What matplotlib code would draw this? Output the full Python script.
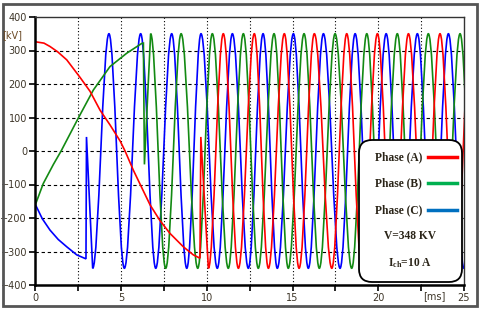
import numpy as np
import matplotlib.pyplot as plt
from matplotlib.patches import FancyBboxPatch, Rectangle, PathPatch
from matplotlib.path import Path
from matplotlib.transforms import IdentityTransform

plt.rcParams['mathtext.fontset'] = 'custom'
plt.rcParams['mathtext.rm'] = 'Liberation Serif:bold'

# Phase (A) - rot: langsame Kurve + Sprung, dann Extremwerte der Schwingung
tA_pre = [0, 0.5, 0.85, 1.3, 1.83, 2.6, 3.19, 3.77, 4.35, 4.94, 5.23, 5.71, 6.69,
          7.27, 7.85, 8.63, 9.21, 9.6, 9.65]
vA_pre = [326, 322, 312, 296, 272, 220, 178, 122, 78, 30, 0, -57, -161,
          -208, -246, -286, -310, -320, 42]
tA_ext = [10.09, 10.96, 11.84, 12.77, 13.59, 14.52, 15.38, 16.27, 17.29, 18.16,
          19.05, 19.95, 20.85, 21.76, 22.7, 23.6, 24.5, 25.4]
vA_ext = [-350, 350, -350, 350, -350, 350, -350, 350, -350, 350,
          -350, 350, -350, 350, -350, 350, -350, 350]

# Phase (B) - gruen
tB_pre = [0, 0.46, 1.05, 1.5, 2.54, 3.38, 4.35, 5.33, 6.2, 6.3, 6.36]
vB_pre = [-160, -97, -40, 0, 102, 182, 252, 292, 321, 322, -40]
tB_ext = [6.72, 7.6, 8.5, 9.47, 10.32, 11.25, 12.13, 13.0, 13.92, 14.75, 15.67,
          16.56, 17.48, 18.45, 19.33, 20.2, 21.11, 22.0, 22.92, 23.85, 24.77, 25.65]
vB_ext = [350, -350, 350, -350, 350, -350, 350, -350, 350, -350, 350,
          -350, 350, -350, 350, -350, 350, -350, 350, -350, 350, -350]

# Phase (C) - blau
tC_pre = [0, 0.4, 0.85, 1.33, 1.83, 2.41, 2.95, 2.98]
vC_pre = [-160, -202, -236, -264, -286, -310, -322, 42]
tC_ext = [3.34, 4.29, 5.19, 6.14, 7.02, 7.95, 8.83, 9.66, 10.61, 11.49, 12.42,
          13.28, 14.11, 15.05, 15.92, 16.8, 17.77, 18.65, 19.55, 20.46, 21.35,
          22.28, 23.2, 24.09, 25.0, 25.9]
vC_ext = [-350, 350, -350, 350, -350, 350, -350, 350, -350, 350, -350,
          350, -350, 350, -350, 350, -350, 350, -350, 350, -350,
          350, -350, 350, -350, 350]

xticks = np.arange(0, 25.1, 2.5)
xlabels = ['0', '', '5', '', '10', '', '15', '', '20', '', '25']
yticks = np.arange(-400, 401, 100)


def phase_path(t_pre, v_pre, t_ext, v_ext):
    # Geradenstuecke fuer den Anfang, Bezier-Boegen zwischen den Extremwerten
    verts = list(zip(t_pre, v_pre))
    codes = [Path.MOVETO] + [Path.LINETO] * (len(t_pre) - 1)
    verts.append((t_ext[0], v_ext[0]))
    codes.append(Path.LINETO)
    k = 1 - 2 / np.pi
    for i in range(1, len(t_ext)):
        t0, v0, t1, v1 = t_ext[i-1], v_ext[i-1], t_ext[i], v_ext[i]
        dt = t1 - t0
        verts += [(t0 + k*dt, v0), (t1 - k*dt, v1), (t1, v1)]
        codes += [Path.CURVE4] * 3
    return Path(verts, codes)


W, H = 480, 309
fig = plt.figure(figsize=(4.8, 3.09), dpi=100)
ax = fig.add_axes([35.4/W, 1-285/H, (464-35.4)/W, (285-17)/H])

# Gitter
for x in xticks[1:-1]:
    ax.axvline(x, color='k', lw=0.8, ls=(0, (1, 2)), zorder=1)
for y in yticks[1:-1]:
    ax.axhline(y, color='k', lw=0.8, ls=(0, (3, 2.5)), zorder=1)

ax.add_patch(PathPatch(phase_path(tC_pre, vC_pre, tC_ext, vC_ext), fill=False,
                       edgecolor='#0000ff', lw=1.2, zorder=2))
ax.add_patch(PathPatch(phase_path(tB_pre, vB_pre, tB_ext, vB_ext), fill=False,
                       edgecolor='#138a13', lw=1.2, zorder=2))
ax.add_patch(PathPatch(phase_path(tA_pre, vA_pre, tA_ext, vA_ext), fill=False,
                       edgecolor='#ff0000', lw=1.2, zorder=2))

ax.set_xlim(0, 25)
ax.set_ylim(-400, 400)
ax.set_xticks(xticks)
ax.set_xticklabels(xlabels)
ax.set_yticks(yticks)
ax.tick_params(labelsize=7, colors='k', labelcolor='#3d3528', length=4, width=1.2, pad=2)
for s in ['left', 'bottom']:
    ax.spines[s].set_linewidth(1.8)
for s in ['top', 'right']:
    ax.spines[s].set_linewidth(1.0)
    ax.spines[s].set_color('#333333')

fig.text(2/W, 1-35/H, '[kV]', fontsize=7, color='#6b4a26', va='center', ha='left')
fig.text(434/W, 1-296/H, '[ms]', fontsize=7, color='#3d3528', va='center', ha='center')

# Legendenkasten
box = FancyBboxPatch((359, H-282), 103, 142, boxstyle='round,pad=0,rounding_size=13',
                     transform=IdentityTransform(), facecolor='white', edgecolor='k',
                     lw=1.3, zorder=5)
fig.patches.append(box)
font = dict(family='Liberation Serif', weight='bold', fontsize=8.3, color='#2a2418')
names = ['Phase (A)', 'Phase (B)', 'Phase (C)']
cols = ['#ff0000', '#00b050', '#0070c0']
rows = [157, 183, 210]
for n, c, r in zip(names, cols, rows):
    fig.text(375/W, 1-r/H, n, va='center', ha='left', zorder=6, **font)
    fig.add_artist(plt.Line2D([428/W, 457/W], [1-r/H, 1-r/H], color=c, lw=2.5, zorder=6))
fig.text(410/W, 1-236/H, 'V=348 KV', va='center', ha='center', zorder=6, **font)
fig.text(410/W, 1-263/H, r'$\mathrm{I_{ch}}$=10 A', va='center', ha='center', zorder=6, **font)

# Rahmen
fig.patches.append(Rectangle((2.5, 3), 474, 302, transform=IdentityTransform(),
                             fill=False, edgecolor='#555555', lw=2))

fig.savefig('out.png', dpi=100)
